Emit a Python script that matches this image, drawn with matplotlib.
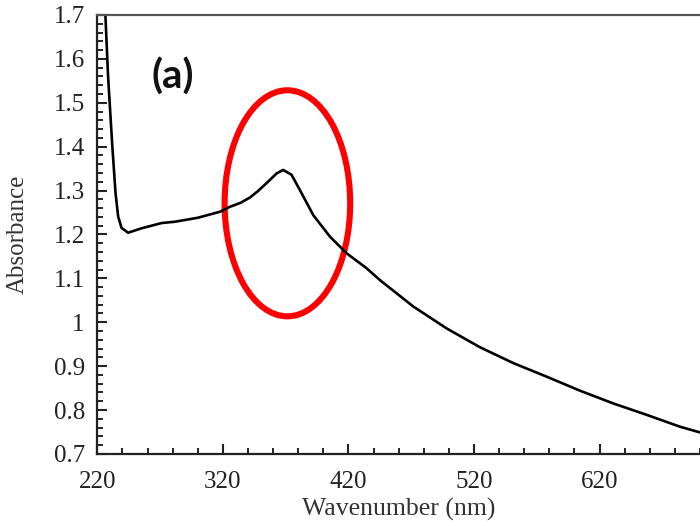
import numpy as np
import matplotlib
matplotlib.use("Agg")
import matplotlib.pyplot as plt
from matplotlib.patches import Ellipse
from matplotlib.ticker import MultipleLocator

# UV-vis spectrum
wavelength = [224.5, 226.5, 228.6, 231.8, 234.5, 236.6, 239.3, 244.5, 255.2, 271.2, 281.8,
              300, 318, 325.6, 334, 341.5, 348, 354.8, 362.8, 368, 374.7, 382.7, 392,
              405.3, 418.6, 434.5, 445.1, 471.6, 498.2, 524.8, 551.3, 577.9, 604.5,
              631, 657.6, 684.1, 700]
absorbance = [1.80, 1.696, 1.559, 1.408, 1.295, 1.241, 1.215, 1.204, 1.214, 1.226, 1.229,
              1.238, 1.252, 1.263, 1.272, 1.284, 1.299, 1.317, 1.339, 1.347, 1.336, 1.294,
              1.244, 1.195, 1.157, 1.123, 1.096, 1.036, 0.986, 0.943, 0.907, 0.876,
              0.844, 0.815, 0.789, 0.762, 0.749]

x_ticks = [220, 320, 420, 520, 620]
y_ticks = [0.7, 0.8, 0.9, 1.0, 1.1, 1.2, 1.3, 1.4, 1.5, 1.6, 1.7]
y_labels = ["0.7", "0.8", "0.9", "1", "1.1", "1.2", "1.3", "1.4", "1.5", "1.6", "1.7"]

plt.rcParams["font.family"] = ["Liberation Serif", "DejaVu Serif"]

fig = plt.figure(figsize=(7, 5.26), dpi=100)
ax = fig.add_axes([0.139, 0.137, 0.861, 0.8345])

ax.plot(wavelength, absorbance, color="black", lw=1.9,
        solid_joinstyle="round", solid_capstyle="round")

ax.add_patch(Ellipse((371.4, 1.271), 100, 0.515, fill=False,
                     edgecolor="#ff0000", lw=4.4))

ax.text(0.217, 0.854, "(a)", transform=fig.transFigure, fontsize=29,
        fontweight="bold", family=["Lato", "DejaVu Sans"],
        ha="left", va="center", color="#111111")

ax.set_xlim(220, 700)
ax.set_ylim(0.7, 1.7)
ax.set_xticks(x_ticks)
ax.set_yticks(y_ticks)
ax.set_yticklabels(y_labels)
ax.xaxis.set_minor_locator(MultipleLocator(20))
ax.yaxis.set_minor_locator(MultipleLocator(0.02))

ax.tick_params(which="major", direction="in", length=7, width=1.5,
               labelsize=18, colors="#222222", pad=9)
ax.tick_params(which="minor", direction="in", length=4, width=1.2)
ax.tick_params(axis="x", pad=12)

for side in ("left", "bottom"):
    ax.spines[side].set_linewidth(1.6)
    ax.spines[side].set_color("#222222")
ax.spines["top"].set_linewidth(1.6)
ax.spines["top"].set_color("#555555")
ax.spines["right"].set_visible(False)

ax.set_xlabel("Wavenumber (nm)", fontsize=18.5, color="#333333", labelpad=4)
ax.set_ylabel("Absorbance", fontsize=18, color="#333333", labelpad=18)

fig.savefig("out.png", dpi=100)
